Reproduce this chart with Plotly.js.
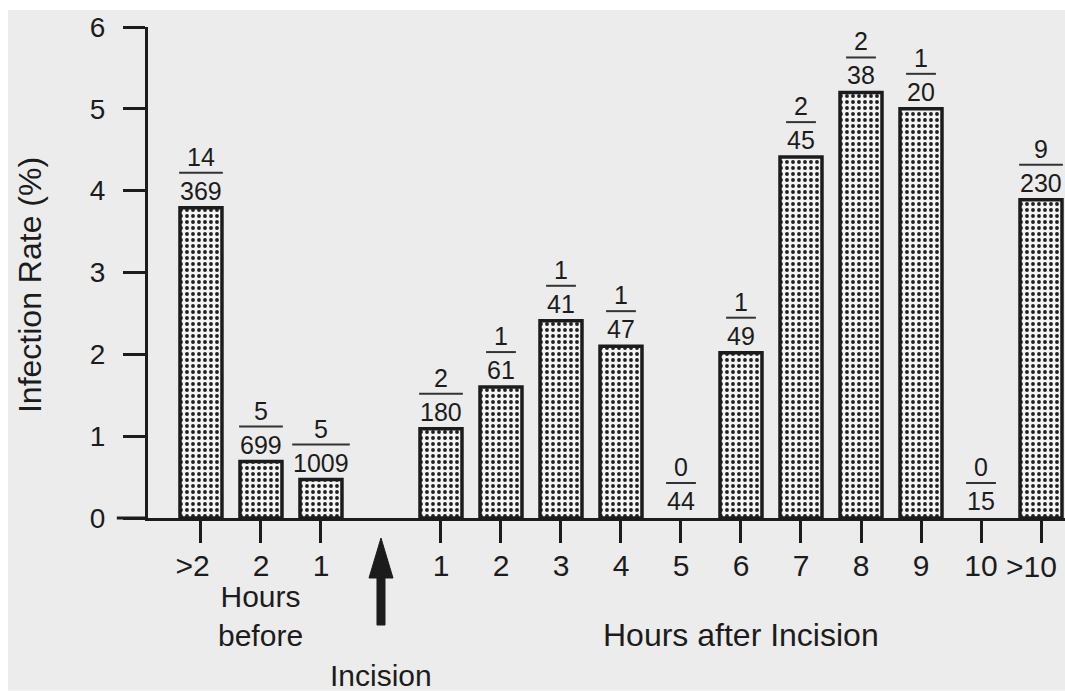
<!DOCTYPE html>
<html>
<head>
<meta charset="utf-8">
<script src="https://cdn.plot.ly/plotly-3.0.1.min.js"></script>
<style>
  html, body { margin: 0; padding: 0; background: #ffffff; }
  #chart { width: 1065px; height: 691px; }
</style>
</head>
<body>
<div id="chart"></div>
<script>
// ---- data ----
// "" marks the incision slot (no bar)
const categories = [">2", "2", "1", "", "1", "2", "3", "4", "5", "6", "7", "8", "9", "10", ">10"];
const rates      = [3.79, 0.69, 0.47, null, 1.09, 1.60, 2.41, 2.10, 0, 2.02, 4.41, 5.20, 5.00, 0, 3.89];
const infected   = [14, 5, 5, null, 2, 1, 1, 1, 0, 1, 2, 2, 1, 0, 9];
const patients   = [369, 699, 1009, null, 180, 61, 41, 47, 44, 49, 45, 38, 20, 15, 230];
const yTicks     = [0, 1, 2, 3, 4, 5, 6];

const ink = '#1c1c1c';
const fontFamily = '"Liberation Sans", Arial, Helvetica, sans-serif';
const fracSize = 25;
const tickSize = 30;

const xs = categories.map((c, i) => i);
const lastIdx = categories.length - 1;
const tickvals = xs.filter(i => categories[i] !== "");
// the last label sits at the right page edge; it is drawn as an annotation shifted left
const ticktext = tickvals.map(i => i === lastIdx ? '' :
  (categories[i].startsWith('>') ? categories[i] + '\u00a0\u00a0' : categories[i]));

const barX = xs.filter(i => rates[i] !== null);
const barY = barX.map(i => rates[i]);

const trace = {
  type: 'bar',
  x: barX,
  y: barY,
  width: 0.7,
  marker: {
    color: '#f2f2f2',
    line: { color: ink, width: barY.map(v => v > 0 ? 3.5 : 0) },
    pattern: { shape: '.', size: 6, solidity: 0.32, fgcolor: '#202020', bgcolor: '#f4f4f4', fillmode: 'replace' }
  },
  hoverinfo: 'x+y',
  showlegend: false
};

const shapes = [];
const annotations = [];

// paper background (scanned page look with a thin white border)
shapes.push({
  type: 'rect', xref: 'paper', yref: 'paper', layer: 'below',
  x0: -0.1527, x1: 1.0, y0: -0.352, y1: 1.0346,
  fillcolor: '#ececec', line: { width: 0 }
});

// extension of the baseline to the left of the y axis
shapes.push({
  type: 'line', xref: 'paper', yref: 'paper', x0: -0.034, x1: 0, y0: 0, y1: 0,
  line: { color: ink, width: 3 }
});

// fraction labels above each bar
barX.forEach(i => {
  const n = String(infected[i]);
  const d = String(patients[i]);
  const len = Math.max(n.length, d.length);
  const hw = (len * 0.556 * fracSize + 2) / 2;
  shapes.push({
    type: 'line', xref: 'x', yref: 'y',
    xsizemode: 'pixel', xanchor: i, x0: -hw, x1: hw,
    ysizemode: 'pixel', yanchor: rates[i], y0: 35, y1: 35,
    line: { color: '#333333', width: 2 }
  });
  annotations.push({
    x: i, y: rates[i], xref: 'x', yref: 'y', text: n, showarrow: false,
    yanchor: 'middle', yshift: 51, font: { family: fontFamily, size: fracSize, color: ink }
  });
  annotations.push({
    x: i, y: rates[i], xref: 'x', yref: 'y', text: d, showarrow: false,
    yanchor: 'middle', yshift: 17, font: { family: fontFamily, size: fracSize, color: ink }
  });
});

// last tick label (">10"), kept inside the page
annotations.push({
  x: lastIdx, y: 0, xref: 'x', yref: 'y', text: categories[lastIdx], showarrow: false,
  xanchor: 'center', xshift: -10, yanchor: 'middle', yshift: -48,
  font: { family: fontFamily, size: tickSize, color: ink }
});

// incision arrow (in the empty slot), drawn below the axis
const incisionIdx = categories.indexOf("");
shapes.push({
  type: 'path', xref: 'x', yref: 'paper',
  xsizemode: 'pixel', xanchor: incisionIdx,
  ysizemode: 'pixel', yanchor: 0,
  path: 'M -4,-107 L 4,-107 L 4,-60 L 12,-60 L 0,-20 L -12,-60 L -4,-60 Z',
  fillcolor: ink, line: { color: ink, width: 1 }
});

annotations.push({
  x: incisionIdx, y: 0, xref: 'x', yref: 'y', text: 'Incision', showarrow: false,
  yanchor: 'middle', yshift: -157, font: { family: fontFamily, size: 30, color: ink }
});
annotations.push({
  x: 1, y: 0, xref: 'x', yref: 'y', text: 'Hours<br>before', showarrow: false,
  yanchor: 'middle', yshift: -98, font: { family: fontFamily, size: 30, color: ink }
});
annotations.push({
  x: 9, y: 0, xref: 'x', yref: 'y', text: 'Hours after Incision', showarrow: false,
  yanchor: 'middle', yshift: -117, font: { family: fontFamily, size: 32, color: ink }
});
// y axis title
annotations.push({
  x: 0, y: 0.4745, xref: 'paper', yref: 'paper', text: 'Infection Rate (%)', showarrow: false,
  textangle: -90, xanchor: 'center', yanchor: 'middle', xshift: -118,
  font: { family: fontFamily, size: 32, color: ink }
});

const layout = {
  width: 1065, height: 691,
  margin: { l: 148, r: 0, t: 27, b: 173, pad: 0 },
  paper_bgcolor: '#ffffff',
  plot_bgcolor: 'rgba(0,0,0,0)',
  font: { family: fontFamily, color: ink },
  showlegend: false,
  bargap: 0.3,
  xaxis: {
    range: [-0.883, 14.4],
    tickmode: 'array', tickvals: tickvals, ticktext: ticktext,
    ticks: 'outside', ticklen: 22, tickwidth: 3, tickcolor: ink,
    showline: true, linecolor: ink, linewidth: 3,
    showgrid: false, zeroline: false,
    tickfont: { family: fontFamily, size: tickSize, color: ink },
    ticklabelstandoff: -3,
    fixedrange: true
  },
  yaxis: {
    range: [0, 6],
    tickmode: 'array', tickvals: yTicks, ticktext: yTicks.map(String),
    ticks: 'outside', ticklen: 22, tickwidth: 3, tickcolor: ink,
    showline: true, linecolor: ink, linewidth: 3,
    showgrid: false, zeroline: false,
    tickfont: { family: fontFamily, size: 28, color: ink },
    ticklabelstandoff: 12,
    automargin: false,
    fixedrange: true
  },
  shapes: shapes,
  annotations: annotations
};

Plotly.newPlot('chart', [trace], layout, { displayModeBar: false, staticPlot: true });
</script>
</body>
</html>
